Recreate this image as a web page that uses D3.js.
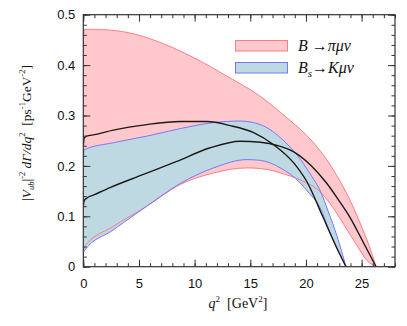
<!DOCTYPE html>
<html><head><meta charset="utf-8">
<script src="https://cdn.jsdelivr.net/npm/d3@7"></script>
<style>
body{margin:0;background:#fff;}
svg{display:block;}
</style></head>
<body>
<svg id="chart" width="407" height="326"></svg>
<script>
// ---- data (q^2 in GeV^2, value in ps^-1 GeV^-2) ----
const xMajorTicks = [0, 5, 10, 15, 20, 25];
const yMajorTicks = [0, 0.1, 0.2, 0.3, 0.4, 0.5];
const yTickLabels = ["0", "0.1", "0.2", "0.3", "0.4", "0.5"];

const bPiUpper = [[0,0.44],[0.08,0.471],[2,0.470],[3.9,0.465],[6.9,0.445],[9.9,0.415],[12.9,0.378],[15.9,0.338],[17.4,0.312],[19,0.282],[20,0.262],[21.1,0.235],[22,0.208],[23,0.172],[24,0.130],[24.8,0.090],[25.7,0.040],[26.3,0]];
const bPiLower = [[0,0.03],[0.08,0.039],[2.7,0.080],[5.7,0.120],[8.7,0.163],[11.7,0.186],[14.7,0.196],[16.5,0.193],[17.7,0.186],[19.5,0.172],[21.2,0.150],[22.5,0.115],[23.5,0.080],[24.5,0.045],[25.5,0.012],[26.3,0]];
const bPiCentral = [[0,0.118],[0.08,0.131],[0.3,0.136],[1,0.143],[2.4,0.157],[5.4,0.183],[8.4,0.209],[11.4,0.236],[14.1,0.249],[15.9,0.247],[17.5,0.240],[18.9,0.228],[20.5,0.200],[21.85,0.166],[23,0.130],[23.9,0.100],[25.3,0.042],[26.3,0]];

const bsKUpper = [[0,0.205],[0.08,0.232],[2.7,0.246],[5.7,0.259],[8.7,0.274],[11.7,0.286],[14.1,0.289],[15.9,0.282],[17.7,0.256],[19.5,0.213],[20.5,0.180],[21.3,0.150],[22,0.110],[22.8,0.060],[23.6,0]];
const bsKLower = [[0,0.025],[0.08,0.031],[2.7,0.073],[5.7,0.120],[8.7,0.165],[11.7,0.196],[14.7,0.2125],[15.9,0.211],[17.7,0.196],[19.5,0.166],[20.2,0.148],[21.25,0.118],[22.3,0.060],[23.6,0]];
const bsKCentral = [[0,0.238],[0.08,0.255],[0.3,0.259],[1,0.262],[2.7,0.271],[5.7,0.282],[8.7,0.288],[11.1,0.288],[13.2,0.280],[15.3,0.266],[17.1,0.242],[18.9,0.206],[20.1,0.168],[21.5,0.100],[22.75,0.038],[23.6,0]];

const legendLabels = ["B \u2192\u03c0\u03bc\u03bd", "Bs\u2192K\u03bc\u03bd"];

// ---- layout ----
const svg = d3.select("#chart");
const L = 83.3, R = 395, T = 14.7, B = 266.7;
const x = d3.scaleLinear().domain([0, 28]).range([L, R]);
const y = d3.scaleLinear().domain([0, 0.5]).range([B, T]);

const pinkFill = "#ffc8cc", pinkEdge = "#ff7d80";
const blueFill = "#bfd9e2", blueEdge = "#7676ff";

svg.append("defs").append("clipPath").attr("id","clip")
  .append("rect").attr("x",L).attr("y",T).attr("width",R-L).attr("height",B-T);

const curve = d3.curveMonotoneX;
function densify(arr){
  const p = document.createElementNS("http://www.w3.org/2000/svg","path");
  p.setAttribute("d", d3.line().x(d=>x(d[0])).y(d=>y(d[1])).curve(curve)(arr));
  svg.node().appendChild(p);
  const len = p.getTotalLength(); const out=[];
  for(let i=0;i<=400;i++){const pt=p.getPointAtLength(len*i/400); out.push([x.invert(pt.x), y.invert(pt.y)]);}
  p.remove();
  return out;
}
function band(up, lo){
  return d3.line().x(d=>x(d[0])).y(d=>y(d[1])).curve(d3.curveLinear)(densify(up).concat(densify(lo).reverse()));
}
const lineGen = d3.line().x(d=>x(d[0])).y(d=>y(d[1])).curve(curve);

const g = svg.append("g").attr("clip-path","url(#clip)");
g.append("path").attr("d", band(bPiUpper, bPiLower)).attr("fill", pinkFill).attr("stroke","none");
g.append("path").attr("d", band(bsKUpper, bsKLower)).attr("fill", blueFill).attr("stroke","none");
[bPiUpper, bPiLower].forEach(d=>g.append("path").attr("d", lineGen(d)).attr("fill","none").attr("stroke",pinkEdge).attr("stroke-width",1));
[bsKUpper, bsKLower].forEach(d=>g.append("path").attr("d", lineGen(d)).attr("fill","none").attr("stroke",blueEdge).attr("stroke-width",1));
[bsKCentral, bPiCentral].forEach(d=>g.append("path").attr("d", lineGen(d)).attr("fill","none").attr("stroke","#1a1a1a").attr("stroke-width",1.4));

// ---- axes ----
const xMinor = d3.range(0, 29, 1);
const yMinor = d3.range(0, 0.5001, 0.02);
const axisColor = "#333";
function styleAxis(sel){
  sel.select(".domain").remove();
  sel.selectAll("line").attr("stroke", axisColor).attr("stroke-width", 1);
  sel.selectAll("text").attr("font-family","'Liberation Sans', Arial, sans-serif").attr("font-size","13px").attr("fill","#111");
}
svg.append("g").attr("transform",`translate(0,${B})`).call(d3.axisBottom(x).tickValues(xMinor).tickSize(-3.5).tickFormat("")).call(styleAxis);
svg.append("g").attr("transform",`translate(0,${B})`).call(d3.axisBottom(x).tickValues(xMajorTicks).tickSize(-7).tickPadding(12).tickFormat(d3.format("d"))).call(styleAxis);
svg.append("g").attr("transform",`translate(0,${T})`).call(d3.axisTop(x).tickValues(xMinor).tickSize(-3.5).tickFormat("")).call(styleAxis);
svg.append("g").attr("transform",`translate(0,${T})`).call(d3.axisTop(x).tickValues(xMajorTicks).tickSize(-7).tickFormat("")).call(styleAxis);
svg.append("g").attr("transform",`translate(${L},0)`).call(d3.axisLeft(y).tickValues(yMinor).tickSize(-3.5).tickFormat("")).call(styleAxis);
svg.append("g").attr("transform",`translate(${L},0)`).call(d3.axisLeft(y).tickValues(yMajorTicks).tickSize(-7).tickPadding(8).tickFormat((d,i)=>yTickLabels[i])).call(styleAxis);
svg.append("g").attr("transform",`translate(${R},0)`).call(d3.axisRight(y).tickValues(yMinor).tickSize(-3.5).tickFormat("")).call(styleAxis);
svg.append("g").attr("transform",`translate(${R},0)`).call(d3.axisRight(y).tickValues(yMajorTicks).tickSize(-7).tickFormat("")).call(styleAxis);

svg.append("rect").attr("x",L).attr("y",T).attr("width",R-L).attr("height",B-T)
  .attr("fill","none").attr("stroke",axisColor).attr("stroke-width",1.2);

// ---- axis titles ----
const serif = "'Liberation Serif', 'Times New Roman', serif";
const xt = svg.append("text").attr("x", 238).attr("y", 308).attr("text-anchor","middle")
  .attr("font-family", serif).attr("font-size","14px").attr("fill","#111");
xt.append("tspan").attr("font-style","italic").text("q");
xt.append("tspan").attr("font-size","9px").attr("dy",-6).text("2");
xt.append("tspan").attr("dy",6).text("\u2002[GeV");
xt.append("tspan").attr("font-size","9px").attr("dy",-6).text("2");
xt.append("tspan").attr("dy",6).text("]");

const yt = svg.append("text").attr("transform","translate(31,133) rotate(-90)").attr("text-anchor","middle")
  .attr("font-family", serif).attr("font-size","13.5px").attr("fill","#111");
yt.append("tspan").text("|");
yt.append("tspan").attr("font-style","italic").text("V");
yt.append("tspan").attr("font-size","8.5px").attr("font-style","italic").attr("dy",3).text("ub");
yt.append("tspan").attr("dy",-3).text("|");
yt.append("tspan").attr("font-size","8.5px").attr("dy",-6).text("-2");
yt.append("tspan").attr("dy",6).attr("font-style","italic").text(" d\u0393/dq");
yt.append("tspan").attr("font-size","8.5px").attr("dy",-6).text("2");
yt.append("tspan").attr("dy",6).text("\u2002[ps");
yt.append("tspan").attr("font-size","8.5px").attr("dy",-6).text("-1");
yt.append("tspan").attr("dy",6).text("GeV");
yt.append("tspan").attr("font-size","8.5px").attr("dy",-6).text("-2");
yt.append("tspan").attr("dy",6).text("]");

// ---- legend ----
const lg = svg.append("g");
lg.append("rect").attr("x",235.5).attr("y",40.5).attr("width",52).attr("height",10.5).attr("fill",pinkFill).attr("stroke",pinkEdge);
lg.append("rect").attr("x",235.5).attr("y",62.5).attr("width",52).attr("height",10.5).attr("fill",blueFill).attr("stroke",blueEdge);
const t1 = lg.append("text").attr("x",298).attr("y",51).attr("font-family",serif).attr("font-size","16px").attr("fill","#111");
t1.append("tspan").attr("font-style","italic").text(legendLabels[0].slice(0,1));
t1.append("tspan").text(legendLabels[0].slice(1,3));
t1.append("tspan").attr("font-style","italic").text(legendLabels[0].slice(3));
const t2 = lg.append("text").attr("x",298).attr("y",72.5).attr("font-family",serif).attr("font-size","16px").attr("fill","#111");
t2.append("tspan").attr("font-style","italic").text(legendLabels[1].slice(0,1));
t2.append("tspan").attr("font-style","italic").attr("font-size","11px").attr("dy",4).text(legendLabels[1].slice(1,2));
t2.append("tspan").attr("dy",-4).text(legendLabels[1].slice(2,3));
t2.append("tspan").attr("font-style","italic").text(legendLabels[1].slice(3));
</script>
</body></html>
